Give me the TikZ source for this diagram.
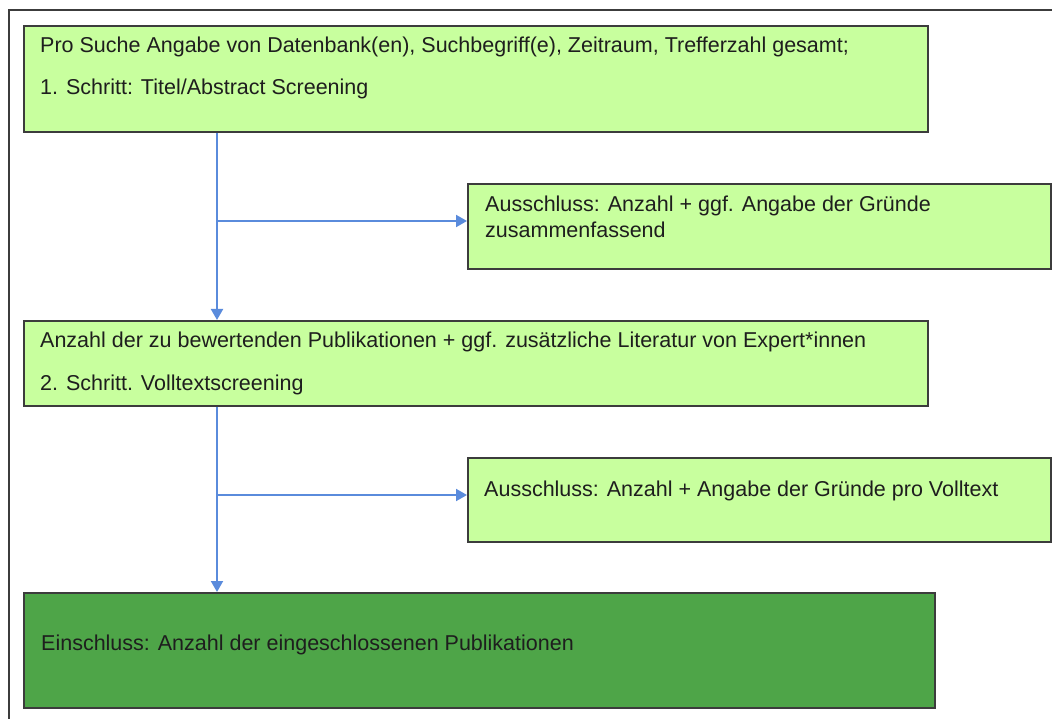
\documentclass[tikz,border=0pt]{standalone}
\usepackage{fontspec}
\setmainfont{Liberation Sans}
\usetikzlibrary{arrows.meta}
\definecolor{lightgreen}{HTML}{C8FF9E}
\definecolor{darkgreen}{HTML}{4EA548}
\definecolor{boxline}{HTML}{3C3C3C}
\definecolor{flowblue}{HTML}{5A8BDC}
\definecolor{txt}{HTML}{1E1E1E}
\begin{document}
\begin{tikzpicture}[x=1pt,y=-1pt,
  panel/.style={draw=boxline,line width=1.8pt,rectangle,inner sep=0pt,anchor=north west},
  greenbox/.style={panel,fill=lightgreen},
  finalbox/.style={panel,fill=darkgreen},
  label/.style={anchor=base west,inner sep=0pt,text=txt,font=\fontsize{21.5}{26}\selectfont,align=left},
  flow/.style={draw=flowblue,line width=2pt,-{Triangle[length=11pt,width=12pt]}}]
  \useasboundingbox (0,0) rectangle (1052,719);
  % frame lines along the top and left
  \draw[line width=1.8pt,draw=boxline] (9,719) -- (9,10) -- (1052,10);

  % boxes
  \node[greenbox,minimum width=904pt,minimum height=106pt] (b1) at (23,25) {};
  \node[greenbox,minimum width=583pt,minimum height=85pt] (b2) at (467,183) {};
  \node[greenbox,minimum width=904pt,minimum height=85pt] (b3) at (23,320) {};
  \node[greenbox,minimum width=583pt,minimum height=84pt] (b4) at (467,457) {};
  \node[finalbox,minimum width=911pt,minimum height=115pt] (b5) at (23,592) {};

  % texts (base anchor of a two-line node sits on its last line)
  \node[label] (t1a) at (40,53) {Pro Suche Angabe von Datenbank(en), Suchbegriff(e), Zeitraum, Trefferzahl gesamt;};
  \node[label] (t1b) at (40,95) {1. Schritt: Titel/Abstract Screening};
  \node[label] (t2) at (485,238) {Ausschluss: Anzahl + ggf. Angabe der Gründe\\zusammenfassend};
  \node[label] (t3a) at (40,347) {Anzahl der zu bewertenden Publikationen + ggf. zusätzliche Literatur von Expert*innen};
  \node[label] (t3b) at (40,390) {2. Schritt. Volltextscreening};
  \node[label] (t4) at (484,496) {Ausschluss: Anzahl + Angabe der Gründe pro Volltext};
  \node[label] (t5) at (41,650) {Einschluss: Anzahl der eingeschlossenen Publikationen};

  % connectors
  \coordinate (j1) at (217,221);
  \coordinate (j2) at (217,495);
  \draw[flow] (b1.south -| j1) -- (b3.north -| j1);
  \draw[flow] (j1) -- (j1 -| b2.west);
  \draw[flow] (b3.south -| j2) -- (b5.north -| j2);
  \draw[flow] (j2) -- (j2 -| b4.west);
\end{tikzpicture}
\end{document}
